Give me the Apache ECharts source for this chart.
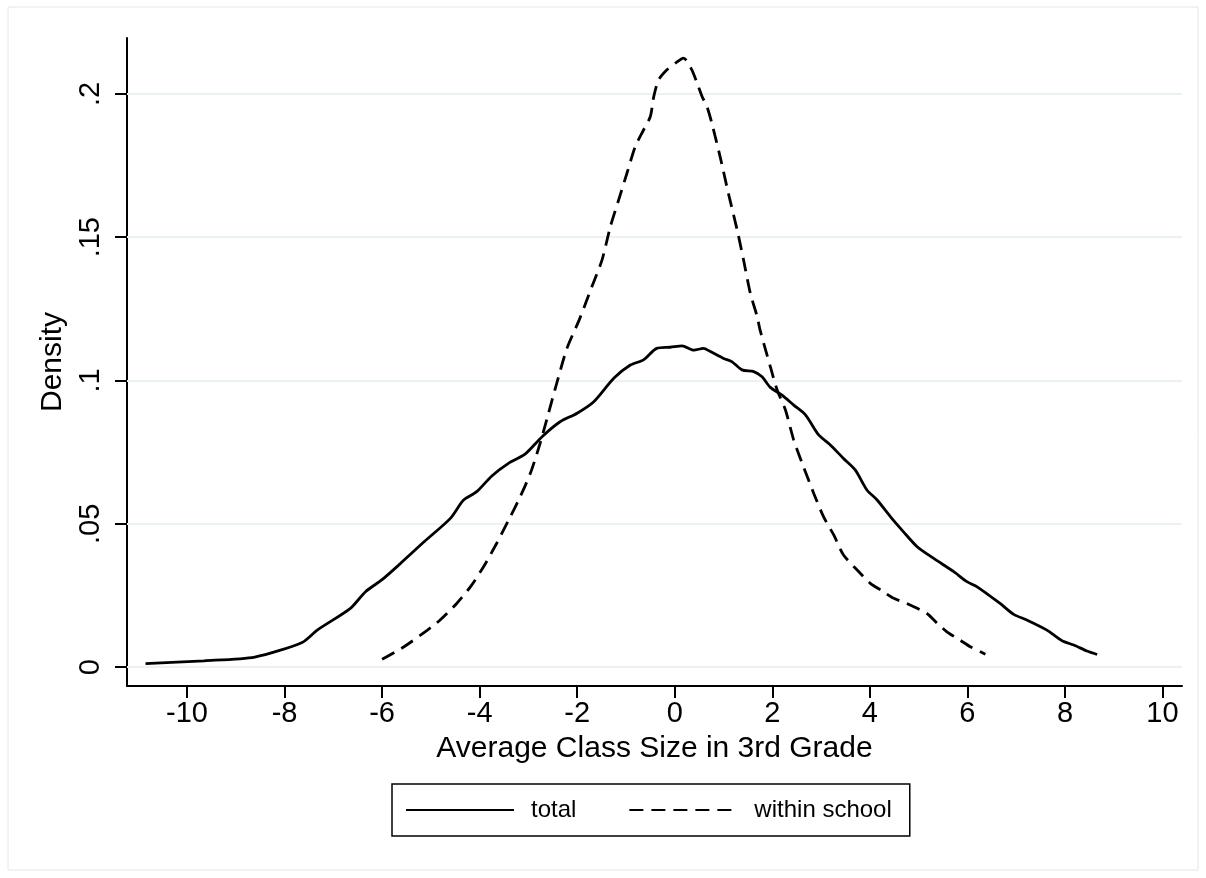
<!DOCTYPE html>
<html>
<head>
<meta charset="utf-8">
<title>Density</title>
<script src="https://cdn.jsdelivr.net/npm/echarts@6/dist/echarts.min.js"></script>
<style>
  html, body { margin: 0; padding: 0; background: #fff; }
  #chart-container { width: 1206px; height: 878px; }
</style>
</head>
<body>
<div id="chart-container"></div>
<script>
const FONT = '"Liberation Sans", Arial, sans-serif';

const X_TICKS = [ -10, -8, -6, -4, -2, 0, 2, 4, 6, 8, 10 ];
const Y_TICKS = [ 0, 0.05, 0.1, 0.15, 0.2 ];
const Y_TICK_LABELS = [ '0', '.05', '.1', '.15', '.2' ];

// total density
const TOTAL_X = [
  -10.85, -9.65, -8.61, -7.64, -7.33, -6.65, -6.34, -6.0, -5.62, -5.14,
  -4.60, -4.33, -4.06, -3.75, -3.41, -3.07, -2.72, -2.35, -2.01, -1.66,
  -1.25, -0.91, -0.64, -0.37, -0.09, 0.15, 0.39, 0.59, 0.73, 1.0,
  1.17, 1.38, 1.62, 1.79, 1.96, 2.20, 2.44, 2.68, 2.95, 3.19,
  3.46, 3.70, 3.94, 4.15, 4.42, 4.69, 4.97, 5.31, 5.72, 5.99,
  6.20, 6.67, 6.95, 7.22, 7.63, 7.94, 8.18, 8.45, 8.66
];
const TOTAL_Y = [
  0.0012, 0.0022, 0.0035, 0.0086, 0.0129, 0.0205, 0.0263, 0.0305, 0.0362, 0.0437,
  0.0519, 0.0583, 0.0612, 0.0667, 0.0711, 0.0743, 0.0804, 0.0856, 0.0885, 0.0926,
  0.1008, 0.1054, 0.1072, 0.1112, 0.1116, 0.1121, 0.1106, 0.1112, 0.1101, 0.1077,
  0.1066, 0.1037, 0.1031, 0.1013, 0.0976, 0.0949, 0.0914, 0.0880, 0.0810, 0.0775,
  0.0728, 0.0688, 0.0618, 0.0583, 0.0525, 0.0472, 0.0420, 0.0379, 0.0333, 0.0298,
  0.0280, 0.0222, 0.0184, 0.0164, 0.0129, 0.0092, 0.0077, 0.0056, 0.0044
];

// within school density
const SCHOOL_X = [
  -6.0, -5.55, -5.07, -4.81, -4.47, -4.19, -3.92, -3.65, -3.37, -3.17,
  -2.96, -2.76, -2.59, -2.42, -2.21, -1.95, -1.70, -1.49, -1.32, -1.15,
  -0.98, -0.81, -0.64, -0.50, -0.43, -0.33, -0.16, 0.01, 0.18, 0.35,
  0.46, 0.56, 0.66, 0.76, 0.93, 1.10, 1.28, 1.41, 1.55, 1.69,
  1.75, 1.96, 2.10, 2.27, 2.44, 2.64, 2.85, 3.05, 3.26, 3.46,
  3.74, 4.01, 4.25, 4.49, 4.76, 5.17, 5.38, 5.58, 5.85, 6.06,
  6.37
];
const SCHOOL_Y = [
  0.0027, 0.0071, 0.0129, 0.0164, 0.0222, 0.0280, 0.0350, 0.0432, 0.0525, 0.0594,
  0.0676, 0.0781, 0.0885, 0.0990, 0.1112, 0.1215, 0.1327, 0.1421, 0.1537, 0.1630,
  0.1723, 0.1816, 0.1874, 0.1921, 0.1991, 0.2049, 0.2084, 0.2107, 0.2125, 0.2084,
  0.2037, 0.1991, 0.1956, 0.1898, 0.1781, 0.1653, 0.1525, 0.1421, 0.1304, 0.1223,
  0.1176, 0.1048, 0.0967, 0.0897, 0.0792, 0.0699, 0.0606, 0.0525, 0.0461, 0.0391,
  0.0339, 0.0292, 0.0266, 0.0240, 0.0222, 0.0187, 0.0153, 0.0123, 0.0094, 0.0071,
  0.0045
];

function zip(xs, ys) {
  return xs.map((x, i) => [ x, ys[i] ]);
}

let $chartContainer = document.querySelector('#chart-container');
let chart = echarts.init($chartContainer, null, { renderer: 'canvas' });

let option = {
  animation: false,
  backgroundColor: '#fff',
  textStyle: { fontFamily: FONT, color: '#000' },
  graphic: [{
    type: 'rect',
    shape: { x: 8, y: 7, width: 1190, height: 863 },
    style: { fill: 'none', stroke: '#e3e8e8', lineWidth: 1 },
    silent: true
  }],
  grid: { left: 127, right: 24, top: 38, bottom: 192, containLabel: false },
  legend: {
    left: 392,
    top: 784,
    orient: 'horizontal',
    data: [ 'total', 'within school' ],
    itemWidth: 108,
    itemHeight: 14,
    itemGap: 52,
    padding: [ 14, 18, 14, 13 ],
    borderColor: '#000',
    borderWidth: 1.5,
    // hide the dot that line series put in the middle of the legend icon
    itemStyle: { color: 'rgba(0,0,0,0)', borderColor: 'rgba(0,0,0,0)', borderWidth: 0 },
    textStyle: { fontFamily: FONT, fontSize: 24, color: '#000', padding: [ 0, 0, 0, 12 ] }
  },
  xAxis: {
    type: 'value',
    min: -11.23,
    max: 10.4,
    name: 'Average Class Size in 3rd Grade',
    nameLocation: 'middle',
    nameGap: 48,
    nameTextStyle: { fontFamily: FONT, fontSize: 30, color: '#000' },
    axisLine: { onZero: false, lineStyle: { color: '#000', width: 2 } },
    axisTick: { show: true, length: 12, customValues: X_TICKS, lineStyle: { color: '#000', width: 2 } },
    axisLabel: { customValues: X_TICKS, fontFamily: FONT, fontSize: 29, color: '#000', margin: 13 },
    splitLine: { show: false }
  },
  yAxis: {
    type: 'value',
    min: -0.0066,
    max: 0.2195,
    name: 'Density',
    nameLocation: 'middle',
    nameGap: 52,
    nameTextStyle: { fontFamily: FONT, fontSize: 30, color: '#000' },
    axisLine: { show: true, onZero: false, lineStyle: { color: '#000', width: 2 } },
    axisTick: { show: true, length: 12, customValues: Y_TICKS, lineStyle: { color: '#000', width: 2 } },
    axisLabel: {
      customValues: Y_TICKS,
      rotate: 90,
      margin: 22,
      fontFamily: FONT,
      fontSize: 29,
      color: '#000',
      formatter: value => {
        let i = Y_TICKS.findIndex(t => Math.abs(t - value) < 1e-9);
        return i >= 0 ? Y_TICK_LABELS[i] : '';
      }
    },
    splitLine: { show: false }
  },
  series: [
    {
      name: 'total',
      type: 'line',
      data: zip(TOTAL_X, TOTAL_Y),
      symbol: 'none',
      showSymbol: false,
      smooth: 0.25,
      z: 3,
      lineStyle: { color: '#000', width: 2.8, type: 'solid' },
      itemStyle: { color: '#000' },
      // horizontal grid lines at the y ticks
      markLine: {
        silent: true,
        symbol: 'none',
        z: 1,
        label: { show: false },
        lineStyle: { color: '#eaf2f3', width: 2, type: 'solid' },
        data: Y_TICKS.map(t => ({ yAxis: t }))
      }
    },
    {
      name: 'within school',
      type: 'line',
      data: zip(SCHOOL_X, SCHOOL_Y),
      symbol: 'none',
      showSymbol: false,
      smooth: 0.25,
      z: 3,
      lineStyle: { color: '#000', width: 2.8, type: [ 14, 8 ] },
      itemStyle: { color: '#000' }
    }
  ]
};

chart.setOption(option);
</script>
</body>
</html>
